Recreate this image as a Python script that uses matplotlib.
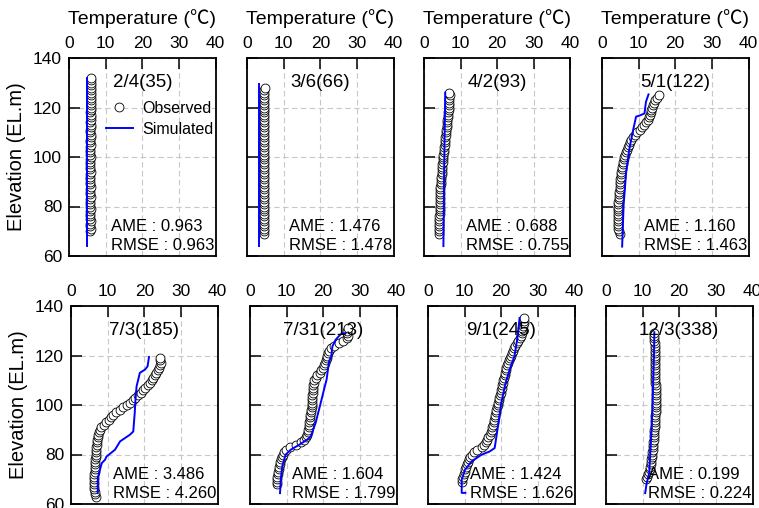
import matplotlib
matplotlib.use("Agg")
import matplotlib.pyplot as plt
from matplotlib.lines import Line2D

plt.rcParams['font.family'] = ['Liberation Sans', 'Noto Sans CJK KR', 'DejaVu Sans']

# ---------------- data ----------------
labels = ['2/4(35)', '3/6(66)', '4/2(93)', '5/1(122)',
          '7/3(185)', '7/31(213)', '9/1(245)', '12/3(338)']
ame = ['0.963', '1.476', '0.688', '1.160', '3.486', '1.604', '1.424', '0.199']
rmse = ['0.963', '1.478', '0.755', '1.463', '4.260', '1.799', '1.626', '0.224']

x_ticks = [0, 10, 20, 30, 40]
y_ticks = [60, 80, 100, 120, 140]

# Observed profiles (elevation, temperature)
obs1_elev = [70, 71, 72, 73, 74, 75, 76, 77, 78, 79,
             80, 81, 82, 83, 84, 85, 86, 87, 88, 89,
             90, 91, 92, 93, 94, 95, 96, 97, 98, 99,
             100, 101, 102, 103, 104, 105, 106, 107, 108, 109,
             110, 111, 112, 113, 114, 115, 116, 117, 118, 119,
             120, 121, 122, 123, 124, 125, 126, 127, 128, 129,
             130, 131, 132]
obs1_temp = [5.8, 5.9, 5.8, 5.8, 5.9, 5.8, 5.7, 5.8, 5.8, 5.9,
             5.8, 5.8, 5.7, 5.8, 5.9, 5.8, 5.8, 5.8, 5.9, 5.8,
             5.7, 5.8, 5.8, 5.8, 5.9, 5.8, 5.8, 5.8, 5.7, 5.8,
             5.9, 5.8, 5.8, 5.8, 5.8, 5.9, 5.8, 5.8, 5.9, 5.9,
             5.8, 5.8, 5.9, 5.9, 5.8, 5.9, 5.9, 5.9, 5.8, 5.9,
             5.9, 5.9, 6.0, 5.9, 5.9, 6.0, 6.0, 5.9, 6.0, 6.0,
             6.0, 6.1, 6.0]

obs2_elev = [69, 70, 71, 72, 73, 74, 75, 76, 77, 78,
             79, 80, 81, 82, 83, 84, 85, 86, 87, 88,
             89, 90, 91, 92, 93, 94, 95, 96, 97, 98,
             99, 100, 101, 102, 103, 104, 105, 106, 107, 108,
             109, 110, 111, 112, 113, 114, 115, 116, 117, 118,
             119, 120, 121, 122, 123, 124, 125, 126, 127, 128]
obs2_temp = [4.6, 4.7, 4.6, 4.6, 4.7, 4.6, 4.6, 4.7, 4.6, 4.6,
             4.7, 4.6, 4.6, 4.7, 4.6, 4.6, 4.6, 4.7, 4.6, 4.6,
             4.7, 4.6, 4.6, 4.6, 4.7, 4.6, 4.6, 4.7, 4.6, 4.6,
             4.6, 4.7, 4.6, 4.6, 4.7, 4.6, 4.6, 4.6, 4.7, 4.6,
             4.6, 4.7, 4.6, 4.6, 4.7, 4.7, 4.6, 4.6, 4.7, 4.6,
             4.6, 4.7, 4.7, 4.6, 4.7, 4.7, 4.6, 4.7, 4.7, 4.8]

obs3_elev = [69, 70, 71, 72, 73, 74, 75, 76, 77, 78,
             79, 80, 81, 82, 83, 84, 85, 86, 87, 88,
             89, 90, 91, 92, 93, 94, 95, 96, 97, 98,
             99, 100, 101, 102, 103, 104, 105, 106, 107, 108,
             109, 110, 111, 112, 113, 114, 115, 116, 117, 118,
             119, 120, 121, 122, 123, 124, 125, 126]
obs3_temp = [4.1, 4.1, 4.2, 4.2, 4.2, 4.2, 4.2, 4.2, 4.3, 4.3,
             4.3, 4.3, 4.3, 4.4, 4.4, 4.4, 4.4, 4.5, 4.5, 4.5,
             4.6, 4.6, 4.7, 4.7, 4.8, 4.8, 4.9, 5.0, 5.0, 5.1,
             5.2, 5.3, 5.3, 5.4, 5.5, 5.5, 5.6, 5.7, 5.8, 5.8,
             5.9, 6.0, 6.1, 6.2, 6.2, 6.3, 6.4, 6.5, 6.5, 6.6,
             6.7, 6.7, 6.8, 6.8, 6.9, 6.9, 7.0, 6.9]

obs4_elev = [69, 70, 71, 72, 73, 74, 75, 76, 77, 78,
             79, 80, 81, 82, 83, 84, 85, 86, 87, 88,
             89, 90, 91, 92, 93, 94, 95, 96, 97, 98,
             99, 100, 101, 102, 103, 104, 105, 106, 107, 108,
             109, 110, 111, 112, 113, 114, 115, 116, 117, 118,
             119, 120, 121, 122, 123, 124, 125]
obs4_temp = [4.8, 4.6, 4.5, 4.4, 4.4, 4.3, 4.3, 4.3, 4.3, 4.4,
             4.4, 4.4, 4.5, 4.5, 4.6, 4.6, 4.7, 4.7, 4.8, 4.8,
             4.9, 5.0, 5.0, 5.1, 5.2, 5.3, 5.4, 5.5, 5.6, 5.8,
             5.9, 6.1, 6.3, 6.5, 6.8, 7.0, 7.3, 7.6, 8.0, 8.5,
             9.0, 9.6, 10.3, 11.0, 11.6, 12.1, 12.5, 12.8, 13.1, 13.3,
             13.5, 13.7, 13.9, 14.2, 14.6, 15.0, 15.5]

obs5_elev = [63, 64, 65, 66, 67, 68, 69, 70, 71, 72,
             73, 74, 75, 76, 77, 78, 79, 80, 81, 82,
             83, 84, 85, 86, 87, 88, 89, 90, 91, 92,
             93, 94, 95, 96, 97, 98, 99, 100, 101, 102,
             103, 104, 105, 106, 107, 108, 109, 110, 111, 112,
             113, 114, 115, 116, 117, 118, 119]
obs5_temp = [6.7, 6.6, 6.5, 6.4, 6.4, 6.4, 6.4, 6.4, 6.4, 6.4,
             6.5, 6.5, 6.5, 6.6, 6.6, 6.6, 6.7, 6.7, 6.8, 6.8,
             6.9, 7.0, 7.1, 7.2, 7.3, 7.5, 7.7, 7.9, 8.3, 8.9,
             9.6, 10.4, 11.0, 11.6, 12.4, 13.3, 14.2, 15.2, 16.0, 16.8,
             17.6, 18.3, 19.0, 19.7, 20.3, 20.9, 21.5, 22.0, 22.5, 22.9,
             23.3, 23.7, 24.1, 24.4, 24.5, 24.4, 24.2]

obs6_elev = [68, 69, 70, 71, 72, 73, 74, 75, 76, 77,
             78, 79, 80, 81, 82, 83, 84, 85, 86, 87,
             88, 89, 90, 91, 92, 93, 94, 95, 96, 97,
             98, 99, 100, 101, 102, 103, 104, 105, 106, 107,
             108, 109, 110, 111, 112, 113, 114, 115, 116, 117,
             118, 119, 120, 121, 122, 123, 124, 125, 126, 127,
             128, 129, 130, 131]
obs6_temp = [7.3, 7.4, 7.4, 7.5, 7.6, 7.7, 7.8, 7.9, 8.1, 8.3,
             8.5, 8.7, 9.0, 9.3, 9.8, 11.0, 12.5, 14.0, 14.8, 15.2,
             15.5, 15.7, 15.8, 16.0, 16.1, 16.2, 16.3, 16.4, 16.5, 16.6,
             16.7, 16.8, 16.8, 16.9, 17.0, 17.0, 17.0, 17.1, 17.1, 17.2,
             17.3, 17.4, 17.6, 17.9, 18.4, 19.0, 19.4, 19.8, 20.2, 20.5,
             20.7, 20.9, 21.1, 21.3, 21.6, 22.0, 23.0, 24.3, 25.5, 26.4,
             26.8, 26.6, 26.5, 26.8]

obs7_elev = [69, 70, 71, 72, 73, 74, 75, 76, 77, 78,
             79, 80, 81, 82, 83, 84, 85, 86, 87, 88,
             89, 90, 91, 92, 93, 94, 95, 96, 97, 98,
             99, 100, 101, 102, 103, 104, 105, 106, 107, 108,
             109, 110, 111, 112, 113, 114, 115, 116, 117, 118,
             119, 120, 121, 122, 123, 124, 125, 126, 127, 128,
             129, 130, 131, 132, 133, 134, 135]
obs7_temp = [9.2, 9.4, 9.6, 9.8, 10.0, 10.2, 10.4, 10.6, 10.9, 11.2,
             11.6, 12.0, 12.5, 13.5, 14.8, 15.4, 15.8, 16.2, 16.5, 16.8,
             17.1, 17.4, 17.6, 17.8, 17.9, 18.0, 18.2, 18.3, 18.5, 18.7,
             18.9, 19.0, 19.1, 19.3, 19.4, 19.6, 19.8, 20.0, 20.1, 20.3,
             20.5, 20.6, 20.7, 20.9, 21.0, 21.2, 21.4, 21.6, 21.8, 22.0,
             22.3, 22.6, 22.9, 23.2, 23.5, 23.8, 24.2, 24.6, 25.0, 25.4,
             25.6, 25.7, 25.8, 26.0, 26.2, 26.3, 26.3]

obs8_elev = [70, 71, 72, 73, 74, 75, 76, 77, 78, 79,
             80, 81, 82, 83, 84, 85, 86, 87, 88, 89,
             90, 91, 92, 93, 94, 95, 96, 97, 98, 99,
             100, 101, 102, 103, 104, 105, 106, 107, 108, 109,
             110, 111, 112, 113, 114, 115, 116, 117, 118, 119,
             120, 121, 122, 123, 124, 125, 126, 127, 128, 129]
obs8_temp = [10.9, 11.2, 11.5, 11.8, 12.0, 12.1, 12.2, 12.3, 12.4, 12.5,
             12.6, 12.6, 12.7, 12.8, 12.9, 12.9, 13.0, 13.1, 13.1, 13.2,
             13.2, 13.3, 13.3, 13.4, 13.4, 13.5, 13.5, 13.6, 13.6, 13.6,
             13.7, 13.7, 13.7, 13.7, 13.7, 13.6, 13.6, 13.6, 13.6, 13.5,
             13.5, 13.5, 13.4, 13.4, 13.4, 13.4, 13.5, 13.5, 13.4, 13.4,
             13.4, 13.3, 13.3, 13.3, 13.3, 13.3, 13.2, 13.2, 13.2, 13.2]

# Simulated profiles (elevation, temperature)
sim1_elev = [64, 98, 132]
sim1_temp = [5.0, 5.0, 5.0]
sim2_elev = [64, 97, 129.5]
sim2_temp = [3.3, 3.3, 3.3]
sim3_elev = [64, 95, 126]
sim3_temp = [5.3, 5.5, 5.8]
sim4_elev = [63.8, 80.6, 94, 103.5, 110.2, 116.3, 116.7, 117.6, 122.3, 125.3]
sim4_temp = [5.5, 5.9, 6.6, 7.5, 8.4, 9.3, 10.2, 11.6, 12.0, 12.7]
sim5_elev = [64.4, 69.8, 71.1, 73.8, 76.5, 77.9, 79.2, 81.9, 85.3, 88.0,
             89.3, 96.8, 102.0, 107.5, 113.0, 114.3, 115.6, 119.4]
sim5_temp = [7.3, 7.3, 7.4, 7.9, 8.4, 9.3, 9.7, 12.0, 13.4, 16.1,
             17.0, 17.4, 17.6, 17.9, 18.8, 20.2, 20.9, 21.3]
sim6_elev = [64.4, 69.8, 75.1, 79.9, 81.9, 83.9, 86.0, 87.3, 92.7, 100.8,
             106.2, 110.2, 117.7, 119.7, 123.7, 126.4, 128.5, 129.1]
sim6_temp = [8.2, 8.4, 8.8, 9.7, 11.1, 13.4, 15.6, 16.6, 17.9, 19.3,
             20.2, 20.9, 21.6, 22.2, 22.5, 23.4, 24.7, 26.1]
sim7_elev = [64.5, 64.5, 69.8, 73.8, 77.2, 79.9, 81.2, 82.6, 91.3, 100.8,
             108.9, 114.3, 119.7, 127.8, 135.2]
sim7_temp = [10.2, 9.2, 9.2, 10.1, 11.9, 14.6, 16.8, 18.2, 19.1, 20.0,
             21.2, 22.3, 23.6, 24.5, 25.0]
sim8_elev = [64.4, 68.4, 72.5, 77.9, 86.0, 91.3, 100.0, 110.0, 120.0, 129.4]
sim8_temp = [10.7, 11.1, 11.8, 12.0, 12.3, 12.5, 12.7, 12.9, 13.1, 13.2]

obs_elev = [obs1_elev, obs2_elev, obs3_elev, obs4_elev,
            obs5_elev, obs6_elev, obs7_elev, obs8_elev]
obs_temp = [obs1_temp, obs2_temp, obs3_temp, obs4_temp,
            obs5_temp, obs6_temp, obs7_temp, obs8_temp]
sim_elev = [sim1_elev, sim2_elev, sim3_elev, sim4_elev,
            sim5_elev, sim6_elev, sim7_elev, sim8_elev]
sim_temp = [sim1_temp, sim2_temp, sim3_temp, sim4_temp,
            sim5_temp, sim6_temp, sim7_temp, sim8_temp]

# ---------------- layout ----------------
W, H = 759, 508
fig = plt.figure(figsize=(W / 100, H / 100), dpi=100)

top_lefts = [69, 247, 424, 602]
bot_lefts = [71, 250, 428, 606]
panel_w = 146.5
row_tops = [58, 306]
panel_h = 198

BLUE = '#0000ff'
MS = 6.4

for i in range(8):
    row, col = divmod(i, 4)
    left = (top_lefts if row == 0 else bot_lefts)[col]
    top = row_tops[row]
    ax = fig.add_axes([left / W, 1 - (top + panel_h) / H, panel_w / W, panel_h / H])

    ax.plot(obs_temp[i], obs_elev[i], 'o', ms=MS, mfc='white', mec='black',
            mew=0.6, zorder=3, clip_on=False)
    ax.plot(sim_temp[i], sim_elev[i], '-', color=BLUE, lw=1.4, zorder=4)

    ax.set_xlim(0, 40)
    ax.set_ylim(60, 140)
    ax.set_xticks(x_ticks)
    ax.set_yticks(y_ticks)
    ax.xaxis.set_ticks_position('top')
    ax.tick_params(axis='both', direction='in', length=8, width=1.1,
                   labelsize=12.5, pad=5, colors='black')
    ax.tick_params(axis='x', top=True, bottom=False, labeltop=True, labelbottom=False)
    ax.tick_params(axis='y', left=True, right=False, labelleft=(col == 0))
    ax.grid(True, ls=(0, (5, 3)), color='#c8c8c8', lw=0.8, zorder=0)
    for s in ax.spines.values():
        s.set_linewidth(1.3)
        s.set_color('black')

    if row == 0:
        ax.xaxis.set_label_position('top')
        ax.set_xlabel('Temperature (℃)', fontsize=14, labelpad=9)
    if col == 0:
        ax.set_ylabel('Elevation (EL.m)', fontsize=14.5, labelpad=5)

    ax.text(0.5, 0.875, labels[i], transform=ax.transAxes, ha='center',
            va='center', fontsize=13.5, zorder=5)
    ax.text(0.29, 0.15, 'AME : ' + ame[i], transform=ax.transAxes,
            ha='left', va='center', fontsize=12, zorder=5)
    ax.text(0.29, 0.055, 'RMSE : ' + rmse[i], transform=ax.transAxes,
            ha='left', va='center', fontsize=12, zorder=5)

    if i == 0:
        handles = [Line2D([], [], ls='none', marker='o', ms=MS, mfc='white',
                          mec='black', mew=0.6),
                   Line2D([], [], color=BLUE, lw=1.4)]
        ax.legend(handles, ['Observed', 'Simulated'], loc='upper left',
                  bbox_to_anchor=(0.25, 0.785), frameon=False, fontsize=11.5,
                  handlelength=1.7, handletextpad=0.6, borderaxespad=0,
                  borderpad=0, labelspacing=0.4)

fig.savefig('out.png', dpi=100)
